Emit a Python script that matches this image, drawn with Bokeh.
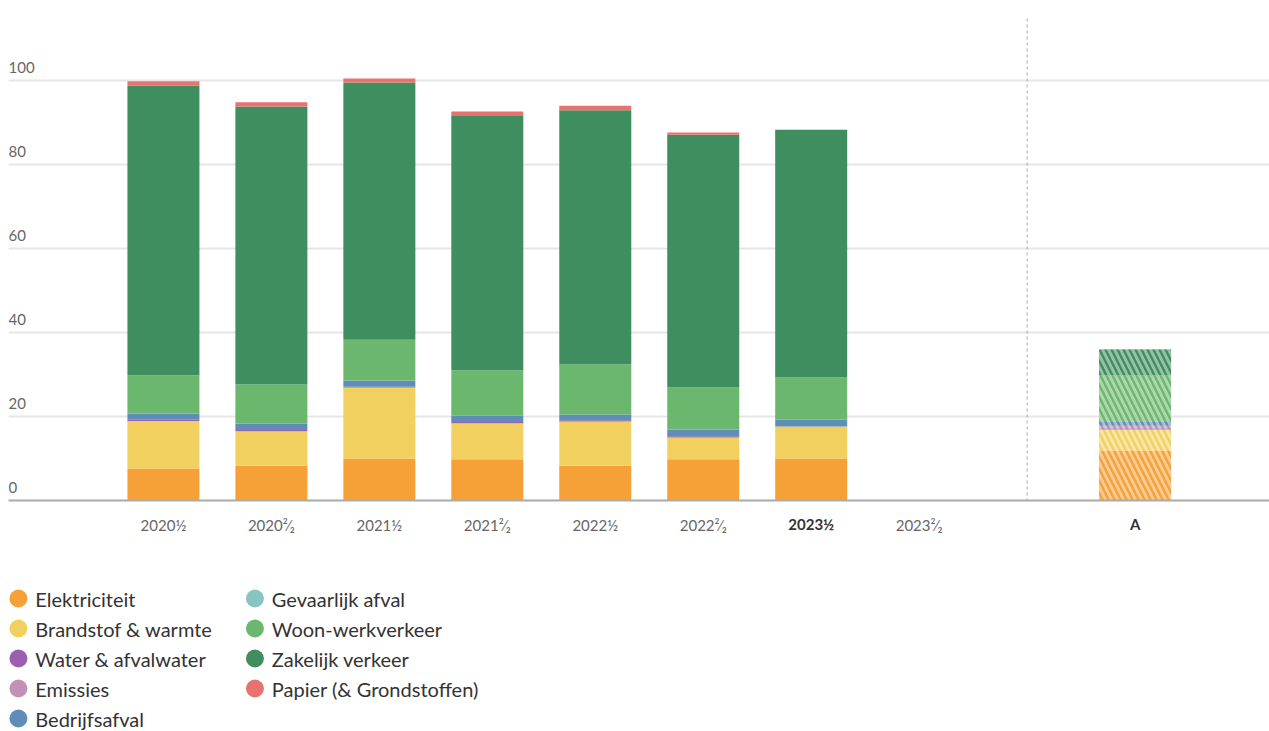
from bokeh.plotting import figure
from bokeh.models import (ColumnDataSource, FixedTicker, Grid, Span, Range1d, LinearAxis)
from bokeh.layouts import column
from bokeh.embed import file_html
from bokeh.resources import INLINE
from bokeh.core.properties import value

# ---------------- data ----------------
periods = ["2020\u00bd", "2020\u00b2\u2044\u2082", "2021\u00bd", "2021\u00b2\u2044\u2082",
           "2022\u00bd", "2022\u00b2\u2044\u2082", "2023\u00bd", "2023\u00b2\u2044\u2082"]
target_label = "A"
bold_labels = ["2023\u00bd", "A"]

series = ["Elektriciteit", "Brandstof & warmte", "Water & afvalwater", "Emissies",
          "Bedrijfsafval", "Gevaarlijk afval", "Woon-werkverkeer", "Zakelijk verkeer",
          "Papier (& Grondstoffen)"]
colors = ["#f6a038", "#f2d060", "#9c5fb0", "#c192b5", "#5e8db8", "#88c4c0",
          "#6cb76e", "#3e8e5f", "#e8726e"]

elektriciteit = [7.6, 8.3, 10.0, 9.8, 8.3, 9.8, 10.0, 0]
brandstof = [11.3, 8.2, 16.9, 8.6, 10.5, 5.2, 7.6, 0]
water = [0.3, 0.3, 0.2, 0.3, 0.3, 0.3, 0.0, 0]
emissies = [0, 0, 0, 0, 0, 0, 0, 0]
bedrijfsafval = [1.5, 1.5, 1.5, 1.5, 1.4, 1.6, 1.7, 0]
gevaarlijk = [0, 0, 0, 0, 0, 0, 0, 0]
woonwerk = [9.1, 9.3, 9.7, 10.8, 11.9, 10.0, 10.0, 0]
zakelijk = [69.0, 66.2, 61.2, 60.7, 60.5, 60.2, 59.0, 0]
papier = [1.0, 1.0, 1.0, 0.9, 1.1, 0.5, 0.0, 0]

target_values = [11.9, 5.0, 0.3, 0.6, 0.9, 0.0, 11.1, 6.1, 0.2]

y_ticks = [0, 20, 40, 60, 80, 100]

# ---------------- layout helpers ----------------
period_x = list(range(len(periods)))
target_x = len(periods) + 1
divider_x = len(periods)

keys = ["s%d" % i for i in range(len(series))]
values = [elektriciteit, brandstof, water, emissies, bedrijfsafval, gevaarlijk,
          woonwerk, zakelijk, papier]
src = ColumnDataSource(dict(x=period_x, **{k: v for k, v in zip(keys, values)}))
tsrc = ColumnDataSource(dict(x=[target_x], **{k: [v] for k, v in zip(keys, target_values)}))

FONT = "Lato"
xr = Range1d(-1.435, 10.245)
yr = Range1d(0, 114.76)

p = figure(width=1269, height=568, x_range=xr, y_range=yr, y_axis_location=None,
           output_backend="svg", toolbar_location=None, min_border_left=8,
           min_border_right=0, min_border_top=18, min_border_bottom=68)
p.outline_line_color = None
p.xgrid.visible = False
p.add_layout(Grid(dimension=1, ticker=FixedTicker(ticks=y_ticks[1:]),
                  grid_line_color="#e6e6e6", grid_line_width=2))

p.vbar_stack(keys, x="x", width=0.667, source=src, color=colors, line_color=None)
p.vbar_stack(keys, x="x", width=0.667, source=tsrc, fill_color=colors, line_color=None,
             hatch_pattern="\\", hatch_color="white", hatch_alpha=0.45,
             hatch_scale=12, hatch_weight=3)

p.add_layout(Span(location=divider_x, dimension="height", line_color="#aaaaaa",
                  line_dash="3 3", line_width=1))

# y labels drawn inside the plot, above gridlines
p.text(x=[xr.start] * len(y_ticks), y=y_ticks, text=[str(t) for t in y_ticks],
       text_font=value(FONT), text_font_size="15px", text_color="#666666",
       text_align="left", text_baseline="alphabetic", y_offset=-13)

all_x = period_x + [target_x]
all_lab = periods + [target_label]

ax = p.xaxis[0]
ax.ticker = FixedTicker(ticks=all_x)
ax.major_label_overrides = {x: (lab if lab not in bold_labels else "")
                            for x, lab in zip(all_x, all_lab)}
ax.axis_line_color = "#aaaaaa"
ax.axis_line_width = 2
ax.major_tick_line_color = None
ax.minor_tick_line_color = None
ax.major_label_standoff = 9
ax.major_label_text_font = FONT
ax.major_label_text_font_size = "15px"
ax.major_label_text_color = "#666666"

# second axis carrying the bold labels, pulled up onto the first axis' label row
bold_x = [x for x, lab in zip(all_x, all_lab) if lab in bold_labels]
ax2 = LinearAxis(ticker=FixedTicker(ticks=bold_x),
                 major_label_overrides={x: lab for x, lab in zip(all_x, all_lab)
                                        if lab in bold_labels})
ax2.axis_line_color = None
ax2.major_tick_line_color = None
ax2.minor_tick_line_color = None
ax2.major_label_text_font = FONT
ax2.major_label_text_font_size = "15px"
ax2.major_label_text_font_style = "bold"
ax2.major_label_text_color = "#333333"
ax2.major_label_standoff = -28
p.add_layout(ax2, "below")

# ---------------- legend ----------------
lg = figure(width=1269, height=162, x_range=Range1d(0, 1269), y_range=Range1d(162, 0),
            output_backend="svg", toolbar_location=None, min_border=0,
            x_axis_location=None, y_axis_location=None)
lg.outline_line_color = None
lg.grid.visible = False
rows = 5
col_x = [10, 248]
lx = [col_x[i // rows] for i in range(len(series))]
ly = [30 + 30 * (i % rows) for i in range(len(series))]
lg.scatter(x=lx, y=ly, size=18, color=colors, line_color=None)
lg.text(x=[v + 17 for v in lx], y=ly, text=series, text_font=value(FONT),
        text_font_size="20px", text_color="#333333", text_baseline="middle",
        text_align="left")

layout = column(p, lg, spacing=0)
open("out.html", "w").write(file_html(layout, INLINE))
